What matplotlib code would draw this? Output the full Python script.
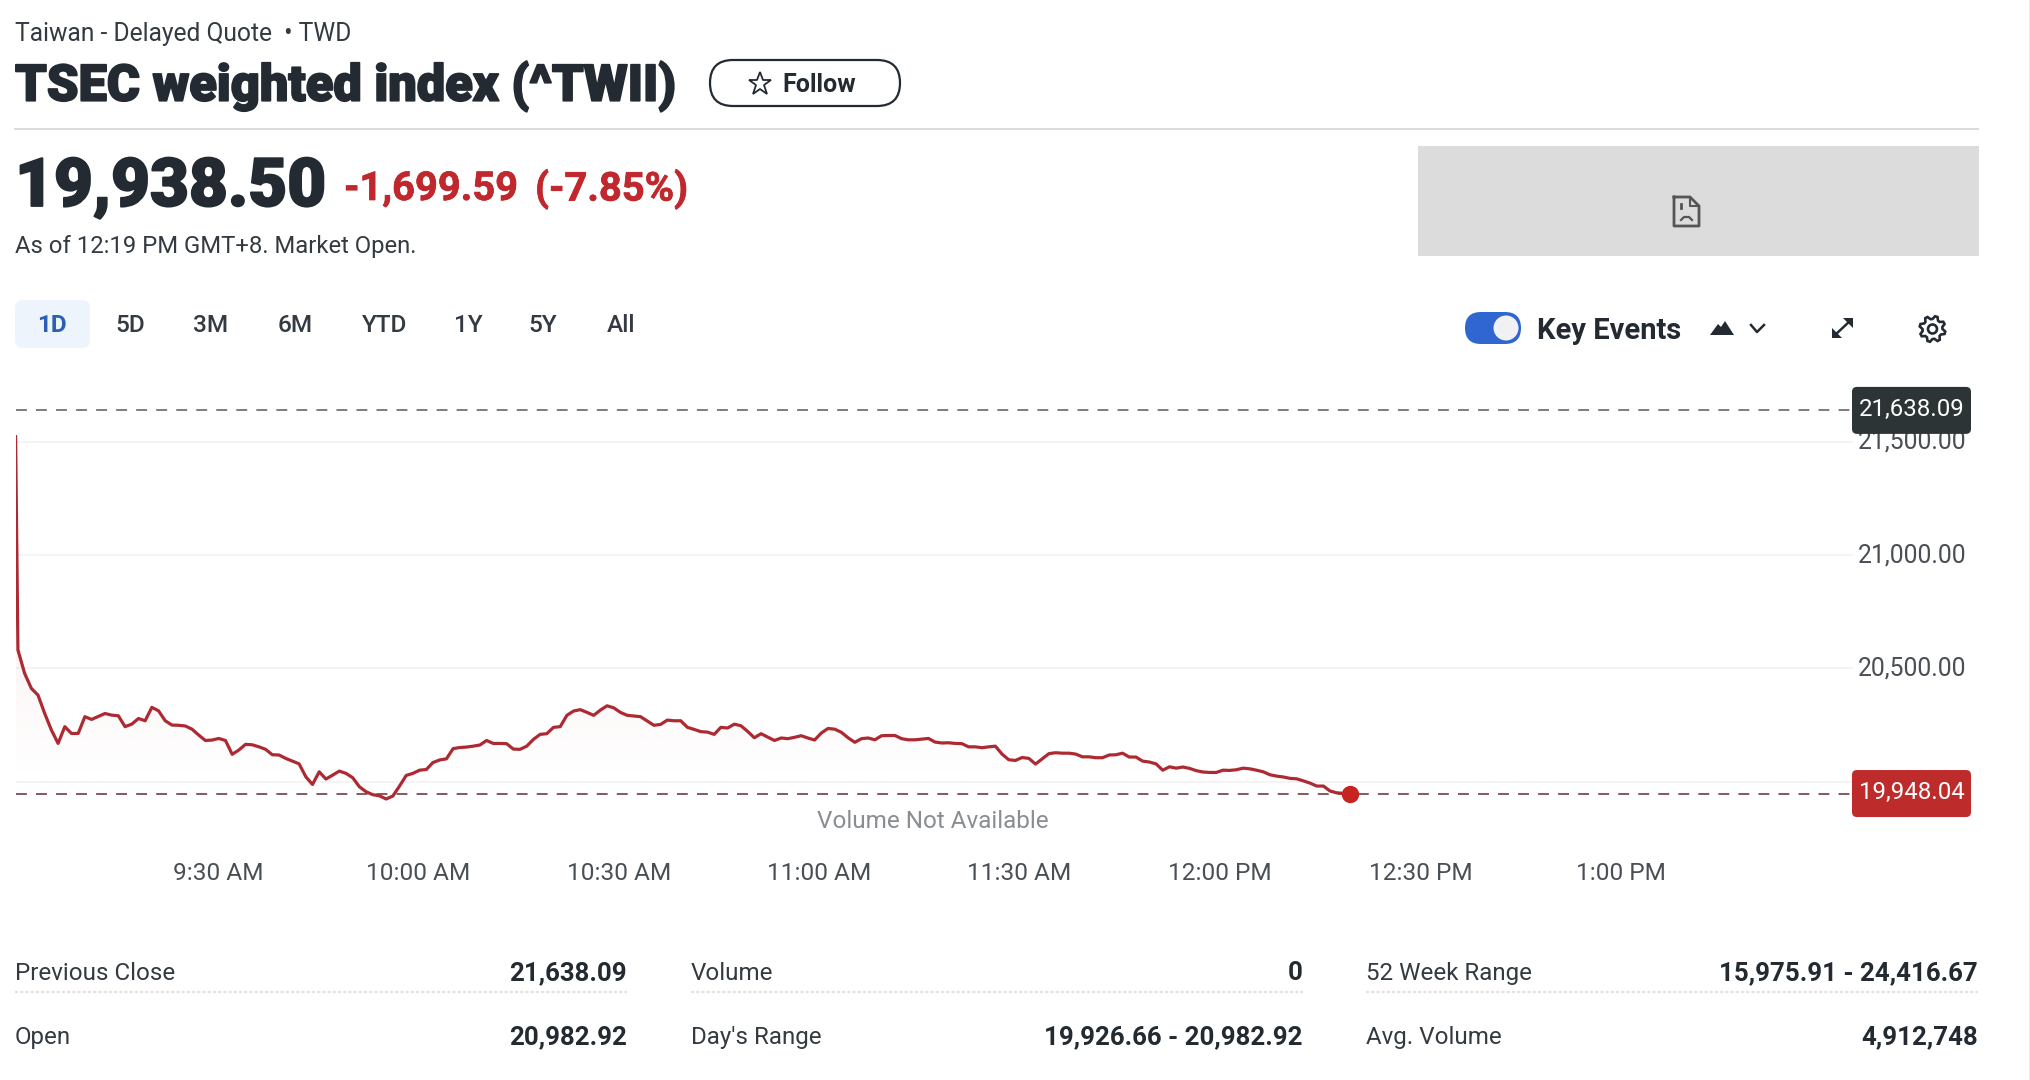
import numpy as np
import matplotlib
matplotlib.use("Agg")
import matplotlib.pyplot as plt
import matplotlib.patheffects as pe
from matplotlib.patches import FancyBboxPatch, Rectangle, Circle, Polygon
from matplotlib.transforms import ScaledTranslation

plt.rcParams['font.family'] = ['Roboto', 'DejaVu Sans']

W, H = 2031, 1080

# index level, one value a minute after the opening spike
spike_minutes = [0.0, 0.2]
spike_values = [21522, 21007]
intraday_values = [
    20581, 20478, 20412, 20382, 20301, 20228, 20169, 20243, 20213, 20213,
    20287, 20275, 20288, 20301, 20294, 20291, 20243, 20254, 20279, 20269,
    20328, 20313, 20269, 20250, 20249, 20246, 20232, 20206, 20182, 20184,
    20191, 20182, 20121, 20140, 20165, 20163, 20154, 20143, 20119, 20118,
    20103, 20091, 20079, 20022, 19988, 20044, 20012, 20029, 20047, 20037,
    20018, 19978, 19956, 19943, 19938, 19924, 19937, 19981, 20028, 20037,
    20051, 20054, 20085, 20096, 20101, 20146, 20151, 20153, 20157, 20162,
    20182, 20169, 20169, 20168, 20144, 20143, 20157, 20187, 20209, 20212,
    20240, 20243, 20293, 20312, 20318, 20306, 20293, 20316, 20335, 20326,
    20306, 20293, 20290, 20287, 20268, 20249, 20253, 20272, 20269, 20269,
    20240, 20231, 20221, 20219, 20209, 20240, 20237, 20254, 20247, 20222,
    20194, 20212, 20197, 20182, 20193, 20190, 20196, 20203, 20193, 20184,
    20215, 20235, 20232, 20218, 20194, 20174, 20190, 20193, 20185, 20203,
    20204, 20204, 20190, 20185, 20185, 20188, 20191, 20175, 20171, 20172,
    20169, 20168, 20154, 20154, 20150, 20154, 20157, 20122, 20097, 20094,
    20107, 20103, 20078, 20101, 20124, 20128, 20126, 20126, 20122, 20110,
    20110, 20106, 20106, 20118, 20119, 20126, 20109, 20109, 20091, 20087,
    20079, 20051, 20066, 20060, 20065, 20059, 20049, 20043, 20041, 20041,
    20051, 20050, 20053, 20060, 20057, 20051, 20044, 20031, 20025, 20021,
    20015, 20013, 20004, 19994, 19981, 19981, 19959, 19951, 19949, 19948,
]
prev_close = 21638.09
last_price = 19948.04

y_ticks = [20000, 20500, 21000, 21500]
y_tick_labels = ['', '20,500.00', '21,000.00', '21,500.00']  # 20,000 sits behind the red flag
x_tick_minutes = [30, 60, 90, 120, 150, 180, 210, 240]
x_tick_labels = ['9:30 AM', '10:00 AM', '10:30 AM', '11:00 AM', '11:30 AM', '12:00 PM', '12:30 PM', '1:00 PM']

range_labels = ['1D', '5D', '3M', '6M', 'YTD', '1Y', '5Y', 'All']
range_centers = [52, 130, 211, 295, 385, 468, 543, 621]

stats_rows = [
    ['Previous Close', '21,638.09', 'Volume', '0', '52 Week Range', '15,975.91 - 24,416.67'],
    ['Open', '20,982.92', "Day's Range", '19,926.66 - 20,982.92', 'Avg. Volume', '4,912,748'],
]

DARK = '#232a31'
RED = '#c0282e'

fig = plt.figure(figsize=(W / 100, H / 100), dpi=100, facecolor='white')

# page furniture is placed in pixel coordinates
ui = fig.add_axes([0, 0, 1, 1], zorder=0)
ui.set_xlim(0, W)
ui.set_ylim(H, 0)
ui.axis('off')

heavy = [pe.withStroke(linewidth=1.3, foreground=DARK)]
semi = [pe.withStroke(linewidth=0.5, foreground=RED)]

ui.text(15, 34, 'Taiwan - Delayed Quote  \u2022 TWD', fontsize=17.7, color='#333a41', va='center')
ui.text(15, 86, 'TSEC weighted index (^TWII)', fontsize=36.4, fontweight='black', color=DARK, va='center', path_effects=heavy)
ui.add_patch(FancyBboxPatch((710, 60), 190, 46, boxstyle='round,pad=0,rounding_size=23', fc='white', ec=DARK, lw=1.6))
ui.plot([760], [84], marker='*', ms=17, mfc='white', mec=DARK, mew=1.3)
ui.text(782, 85, 'Follow', fontsize=18, fontweight='bold', color=DARK, va='center')
ui.plot([15, 1978], [129, 129], color='#dcdcdc', lw=1.4)

ui.text(15, 188, '19,938.50', fontsize=48.4, fontweight='black', color=DARK, va='center', path_effects=heavy)
ui.text(344, 189, '-1,699.59', fontsize=28.7, fontweight='bold', color=RED, va='center', path_effects=semi)
ui.text(535, 189, '(-7.85%)', fontsize=28.7, fontweight='bold', color=RED, va='center', path_effects=semi)
ui.text(15, 247, 'As of 12:19 PM GMT+8. Market Open.', fontsize=17.2, color='#333a41', va='center')

ui.add_patch(FancyBboxPatch((15, 300), 75, 48, boxstyle='round,pad=0,rounding_size=8', fc='#eef4fc', ec='none'))
for label, cx in zip(range_labels, range_centers):
    is_active = label == '1D'
    ui.text(cx, 326, label, fontsize=17.6, ha='center', va='center', fontweight='bold' if is_active else 'medium',
            color='#2a5fb5' if is_active else '#333a41')

# broken image placeholder
ui.add_patch(Rectangle((1418, 146), 561, 110, fc='#dcdcdc', ec='none'))
ui.plot([1674, 1690, 1699, 1699, 1674, 1674], [197, 197, 206, 226, 226, 197], color='#555555', lw=2)
ui.plot([1690, 1690, 1699], [197, 206, 206], color='#555555', lw=1.5)
ui.plot([1681, 1681], [204, 208], color='#555555', lw=2)
ui.plot([1681, 1684, 1689, 1692], [220, 217, 217, 220], color='#555555', lw=1.6)

# key events controls
ui.add_patch(FancyBboxPatch((1465, 312), 56, 32, boxstyle='round,pad=0,rounding_size=16', fc='#2f66d0', ec='none'))
ui.add_patch(Circle((1506, 328), 12.5, fc='#f0f1f3', ec='none'))
ui.text(1537, 331, 'Key Events', fontsize=21, fontweight='bold', color=DARK, va='center')
ui.add_patch(Polygon([[1710, 335], [1718, 324], [1721, 327], [1725, 321], [1734, 335]], fc=DARK, ec='none'))
ui.plot([1751, 1757, 1764], [325, 332, 325], color=DARK, lw=1.8)
ui.plot([1834, 1851], [336, 320], color=DARK, lw=1.8)
ui.add_patch(Polygon([[1832, 338], [1832, 328], [1842, 338]], fc=DARK, ec='none'))
ui.add_patch(Polygon([[1853, 318], [1853, 328], [1843, 318]], fc=DARK, ec='none'))
gear_angles = np.linspace(0, 2 * np.pi, 33)[:-1] + np.pi / 16
gear_radii = np.tile([13, 13, 10, 10], 8)
gear_pts = np.column_stack([1932.5 + gear_radii * np.cos(gear_angles), 329 + gear_radii * np.sin(gear_angles)])
ui.add_patch(Polygon(gear_pts, fc='white', ec=DARK, lw=1.9))
ui.add_patch(Circle((1932.5, 329), 4.5, fc='white', ec=DARK, lw=1.9))

ui.text(933, 822, 'Volume Not Available', fontsize=17.5, color='#8a8d91', ha='center', va='center')

# stats table under the chart
col_left = [15, 691, 1366]
col_right = [627, 1303, 1978]
row_y = [973.5, 1037.5]
for i, (y, row) in enumerate(zip(row_y, stats_rows)):
    for c in range(3):
        ui.text(col_left[c], y, row[2 * c], fontsize=17.4, color='#333a41', va='center')
        ui.text(col_right[c], y, row[2 * c + 1], fontsize=18.6, fontweight='bold', color=DARK, ha='right', va='center')
        if i == 0:
            ui.plot([col_left[c], col_right[c]], [992, 992], color='#e0e1e3', lw=1.5, ls=(0, (1.5, 1)))

ui.plot([2029.5, 2029.5], [0, H], color='#e6e6e6', lw=1.2)

# chart area, scale taken from gridlines and time labels
px_per_min = 6.68
px_per_unit = 0.2267
left_px, right_px = 15.6, 1853.0
top_px, bottom_px = 395.0, 830.0
ax = fig.add_axes([left_px / W, 1 - bottom_px / H, (right_px - left_px) / W, (bottom_px - top_px) / H], zorder=1)
ax.patch.set_visible(False)
x_limits = (0, (right_px - left_px) / px_per_min)
y_limits = (21500 - (bottom_px - 441.7) / px_per_unit, 21500 + (441.7 - top_px) / px_per_unit)
for s in ax.spines.values():
    s.set_visible(False)

minutes = np.concatenate([spike_minutes, 0.35 + np.arange(len(intraday_values)) * 1.0022])
values = np.concatenate([spike_values, intraday_values])

# faint gradient under the line
fill = ax.fill_between(minutes, values, y_limits[0], color='none')
grad = np.zeros((256, 2, 4))
grad[..., :3] = matplotlib.colors.to_rgb(RED)
grad[..., 3] = np.linspace(0.05, 0.0, 256)[:, None]
img = ax.imshow(grad, extent=[0, minutes[-1], 20000, 20600], origin='upper', aspect='auto', zorder=1)
img.set_clip_path(fill.get_paths()[0], ax.transData)
ax.set_xlim(x_limits)
ax.set_ylim(y_limits)

ax.set_yticks(y_ticks)
ax.set_yticklabels(y_tick_labels)
ax.yaxis.tick_right()
ax.set_xticks(x_tick_minutes)
ax.set_xticklabels(x_tick_labels)
ax.tick_params(axis='y', length=0, pad=3.5, labelsize=17.8, labelcolor='#4a4f55')
ax.tick_params(axis='x', length=0, pad=23, labelsize=17.6, labelcolor='#4a4f55')
ax.grid(axis='y', color='#f2f2f2', lw=1.2)
ax.grid(axis='x', visible=False)
ax.set_axisbelow(True)
for lab in ax.get_yticklabels():
    lab.set_transform(lab.get_transform() + ScaledTranslation(0, 2.5 / 100, fig.dpi_scale_trans))
for lab in ax.get_xticklabels():
    lab.set_transform(lab.get_transform() + ScaledTranslation(2 / 100, 0, fig.dpi_scale_trans))

ax.axhline(prev_close, color='#7d7d7d', lw=1.4, ls=(0, (5.6, 4.7)), zorder=2)
ax.axhline(last_price, color='#85595d', lw=1.4, ls=(0, (5.6, 4.7)), zorder=2)
ax.plot(minutes, values, color='#ad2a33', lw=2.3, zorder=3, solid_joinstyle='round')
ax.plot(minutes[-1], values[-1], 'o', color='#c8241f', ms=12.5, mew=0, zorder=4)

# price flags at the right edge
for price, face in [(prev_close, '#2d3436'), (last_price, '#bd2b2b')]:
    yc = 441.7 + (21500 - price) * px_per_unit
    ax.add_patch(FancyBboxPatch((1852, yc - 23.5), 119, 47, boxstyle='round,pad=0,rounding_size=5', fc=face, ec='none',
                                transform=ui.transData, clip_on=False, zorder=5))
    ax.annotate(f'{price:,.2f}', xy=(1, price), xycoords=ax.get_yaxis_transform(), xytext=(4, 0.6),
                textcoords='offset points', va='center', fontsize=17.3, color='white', zorder=6)

fig.savefig('out.png', dpi=100)
